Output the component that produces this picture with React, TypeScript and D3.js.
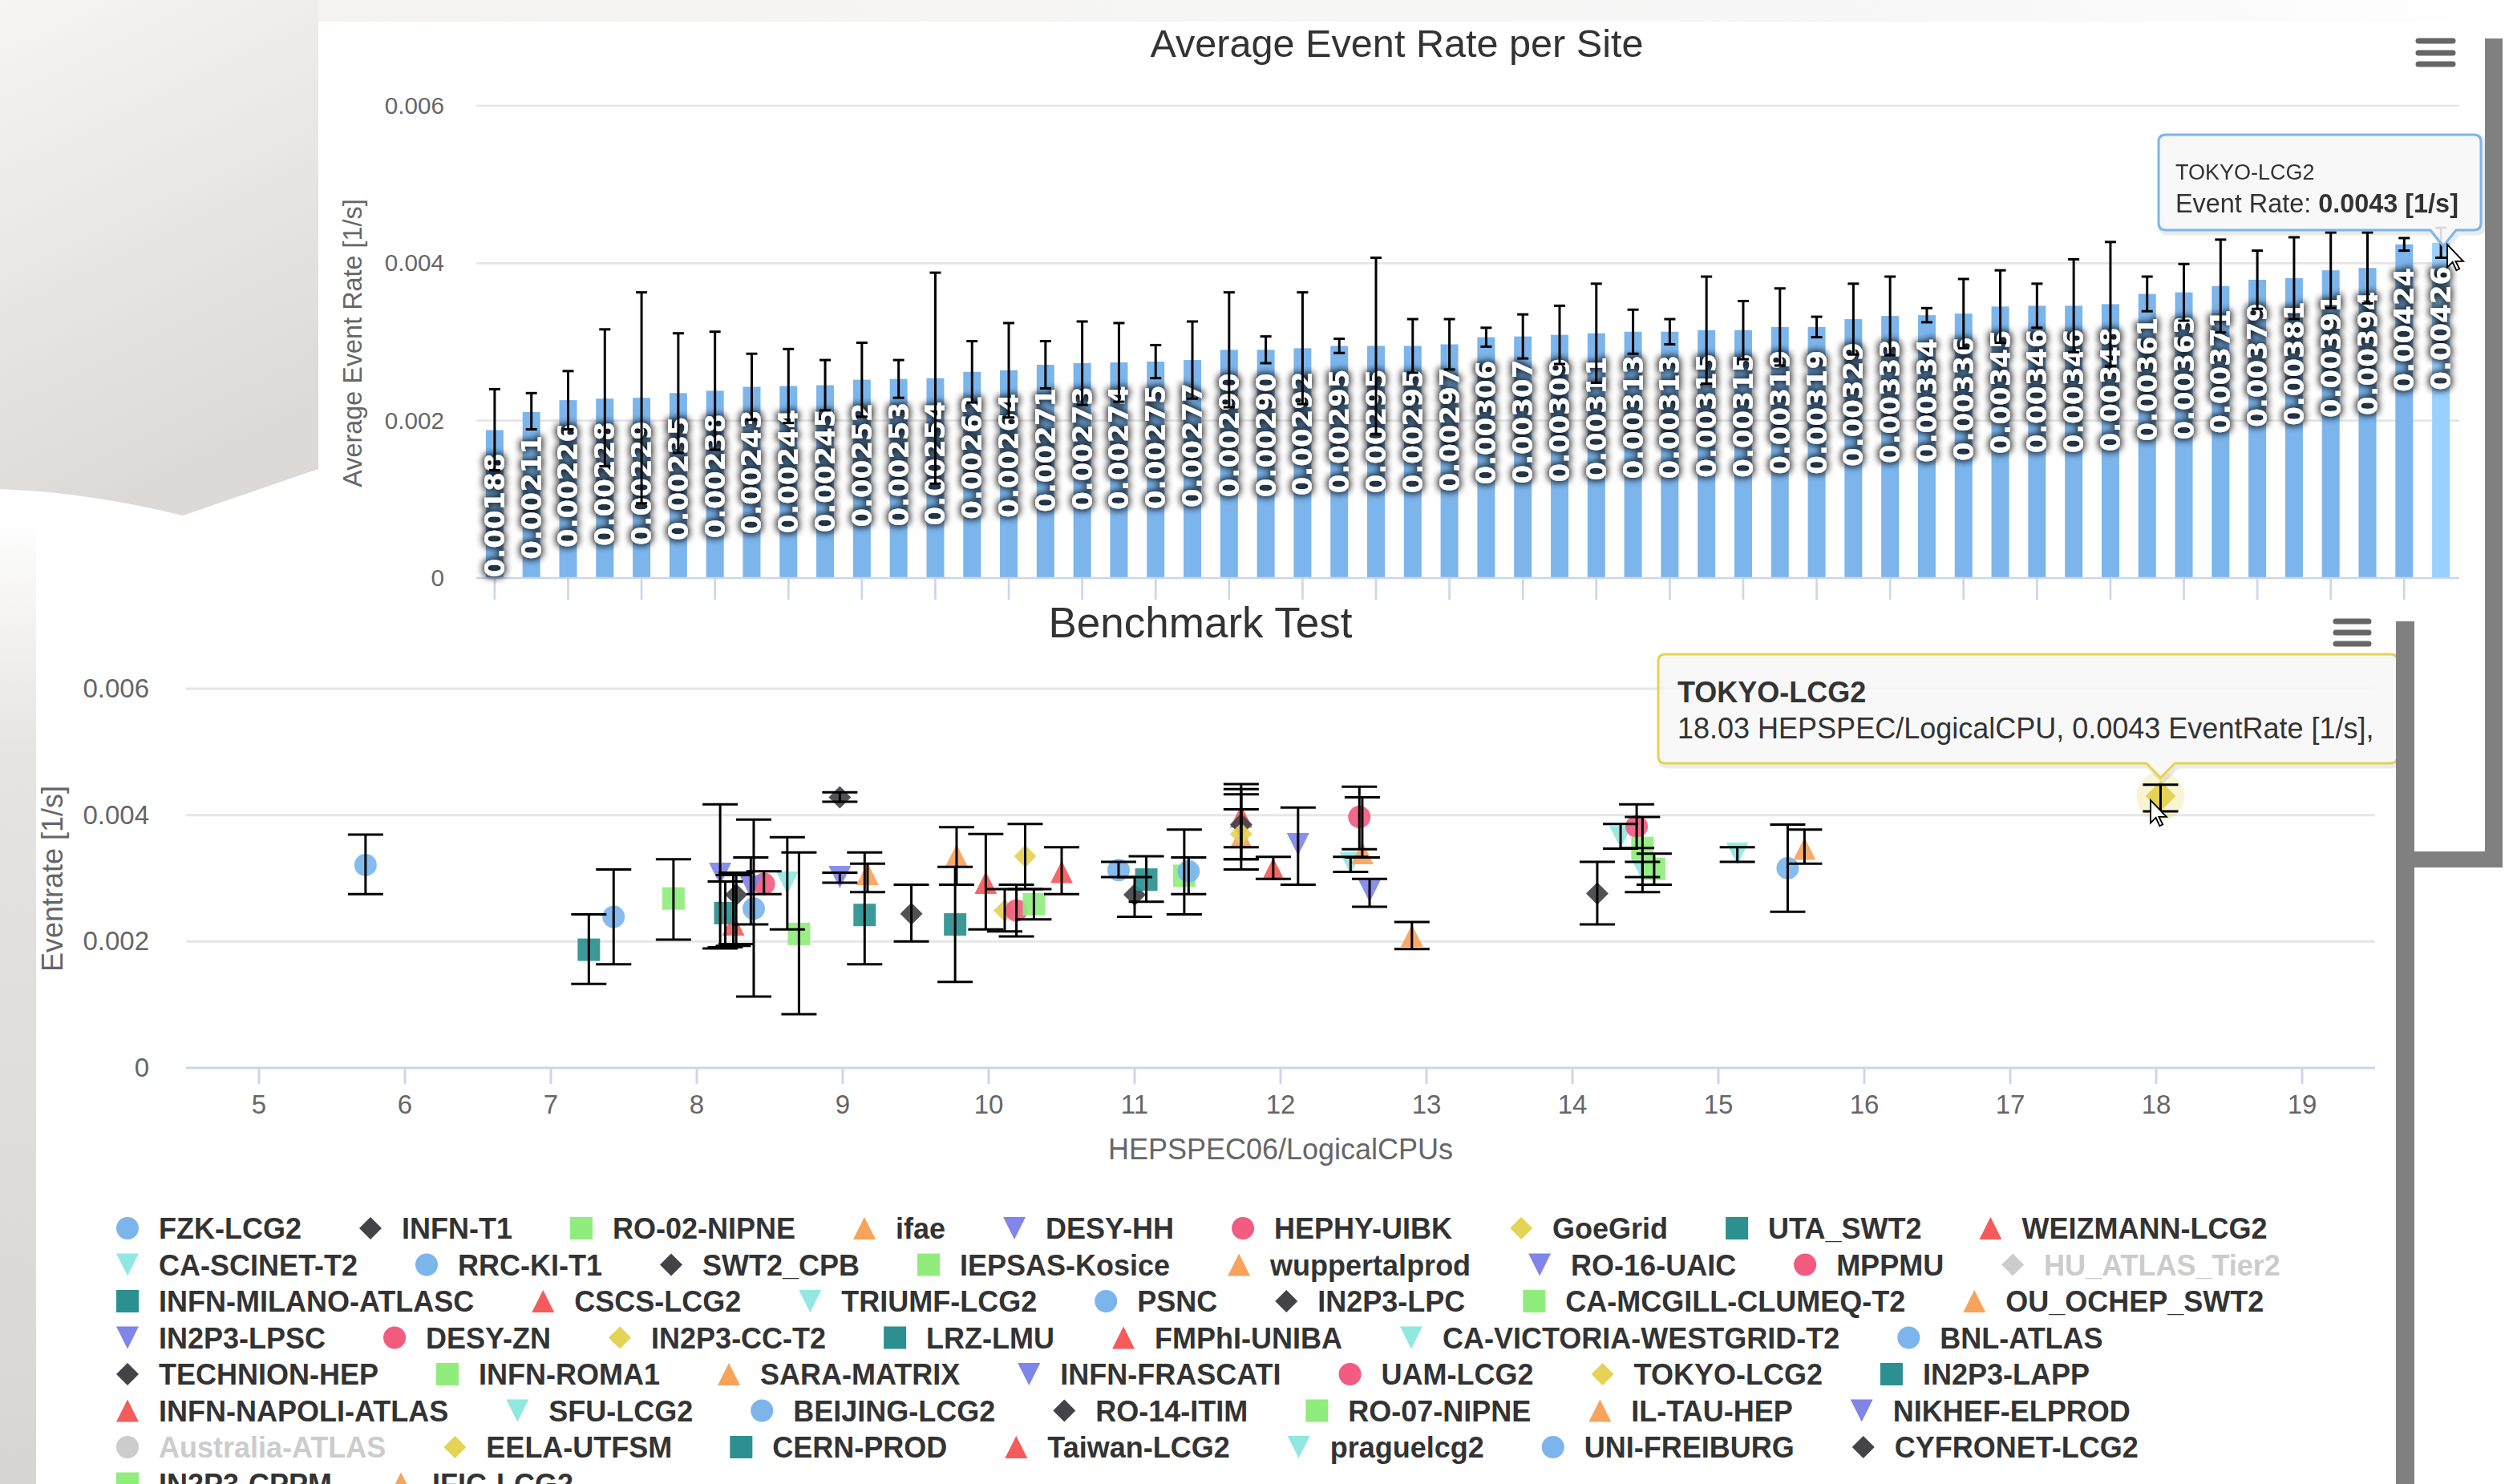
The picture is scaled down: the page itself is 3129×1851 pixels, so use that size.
import React from "react";
import * as d3 from "d3";

const W = 3129;
const H = 1851;
const FONT = "'Liberation Sans', Arial, Helvetica, sans-serif";
const LABEL_FONT = "'DejaVu Sans', Verdana, sans-serif";

// top chart: average event rate per site (sorted)
const barRates = [
  0.00188, 0.00211, 0.00226, 0.00228, 0.00229, 0.00235, 0.00238, 0.00243, 0.00244, 0.00245,
  0.00252, 0.00253, 0.00254, 0.00262, 0.00264, 0.00271, 0.00273, 0.00274, 0.00275, 0.00277,
  0.0029, 0.0029, 0.00292, 0.00295, 0.00295, 0.00295, 0.00297, 0.00306, 0.00307, 0.00309,
  0.00311, 0.00313, 0.00313, 0.00315, 0.00315, 0.00319, 0.00319, 0.00329, 0.00333, 0.00334,
  0.00336, 0.00345, 0.00346, 0.00346, 0.00348, 0.00361, 0.00363, 0.00371, 0.00379, 0.00381,
  0.00391, 0.00394, 0.00424, 0.00426,
];
const barHigh = [
  0.0024, 0.00235, 0.00263, 0.00316, 0.00363, 0.00311, 0.00313, 0.00285, 0.00291, 0.00277,
  0.00299, 0.00277, 0.00388, 0.00301, 0.00324, 0.00301, 0.00326, 0.00324, 0.00296, 0.00326,
  0.00363, 0.00307, 0.00363, 0.00304, 0.00407, 0.00329, 0.00329, 0.00318, 0.00335, 0.00346,
  0.00374, 0.00341, 0.00329, 0.00383, 0.00352, 0.00368, 0.00332, 0.00374, 0.00383, 0.00343,
  0.0038, 0.00391, 0.00374, 0.00405, 0.00427, 0.00383, 0.00399, 0.0043, 0.00416, 0.00433,
  0.00439, 0.00439, 0.00432, 0.00445,
];
const barLow = [
  0.00137, 0.00189, 0.00189, 0.00142, 0.00095, 0.00159, 0.00163, 0.00201, 0.00197, 0.00213,
  0.00205, 0.00229, 0.0012, 0.00223, 0.00204, 0.00241, 0.0022, 0.00224, 0.00254, 0.00228,
  0.00217, 0.00273, 0.00221, 0.00286, 0.00183, 0.00261, 0.00265, 0.00294, 0.00279, 0.00272,
  0.00248, 0.00285, 0.00297, 0.00247, 0.00278, 0.0027, 0.00306, 0.00284, 0.00283, 0.00325,
  0.00292, 0.00299, 0.00318, 0.00287, 0.00269, 0.00339, 0.00327, 0.00312, 0.00342, 0.00329,
  0.00343, 0.00349, 0.00416, 0.00407,
];
const hoveredBar = 53;

// bottom chart: one series per site
const siteNames = [
  "FZK-LCG2", "INFN-T1", "RO-02-NIPNE", "ifae", "DESY-HH", "HEPHY-UIBK", "GoeGrid", "UTA_SWT2",
  "WEIZMANN-LCG2", "CA-SCINET-T2", "RRC-KI-T1", "SWT2_CPB", "IEPSAS-Kosice", "wuppertalprod",
  "RO-16-UAIC", "MPPMU", "HU_ATLAS_Tier2", "INFN-MILANO-ATLASC", "CSCS-LCG2", "TRIUMF-LCG2",
  "PSNC", "IN2P3-LPC", "CA-MCGILL-CLUMEQ-T2", "OU_OCHEP_SWT2", "IN2P3-LPSC", "DESY-ZN",
  "IN2P3-CC-T2", "LRZ-LMU", "FMPhI-UNIBA", "CA-VICTORIA-WESTGRID-T2", "BNL-ATLAS", "TECHNION-HEP",
  "INFN-ROMA1", "SARA-MATRIX", "INFN-FRASCATI", "UAM-LCG2", "TOKYO-LCG2", "IN2P3-LAPP",
  "INFN-NAPOLI-ATLAS", "SFU-LCG2", "BEIJING-LCG2", "RO-14-ITIM", "RO-07-NIPNE", "IL-TAU-HEP",
  "NIKHEF-ELPROD", "Australia-ATLAS", "EELA-UTFSM", "CERN-PROD", "Taiwan-LCG2", "praguelcg2",
  "UNI-FREIBURG", "CYFRONET-LCG2", "IN2P3-CPPM", "IFIC-LCG2",
];
const hiddenSites = ["HU_ATLAS_Tier2", "Australia-ATLAS"];
const siteHs06 = [
  5.73, 8.98, 7.84, 9.17, 8.16, 8.46, 10.11, 7.26, 8.25, 8.62,
  7.43, 8.27, 8.7, 9.78, 8.37, 10.19, null, 8.195, 9.98, 12.48,
  8.39, 9.47, 10.31, 11.73, 8.98, 12.54, 10.25, 9.15, 10.5, 14.33,
  10.89, 11.0, 11.34, 12.56, 12.12, 14.44, 18.03, 9.77, 11.73, 14.48,
  11.37, 11.73, 14.48, 12.9, 12.61, null, 11.73, 11.08, 11.95, 15.13,
  15.475, 14.17, 14.56, 15.59,
];
const siteRate = [
  0.00321, 0.00428, 0.00268, 0.00307, 0.00307, 0.00291, 0.00249, 0.00187, 0.00227, 0.00293,
  0.00239, 0.00274, 0.00212, 0.00336, 0.00287, 0.00249, null, 0.00245, 0.00293, 0.00324,
  0.00252, 0.00244, 0.00259, 0.00365, 0.00302, 0.00397, 0.00335, 0.00242, 0.0031, 0.00365,
  0.00313, 0.00274, 0.00304, 0.0034, 0.00354, 0.00382, 0.0043, 0.00227, 0.00398, 0.00313,
  0.00311, 0.00385, 0.00348, 0.00209, 0.0028, null, 0.0037, 0.00298, 0.00315, 0.00339,
  0.00316, 0.00276, 0.00315, 0.00347,
];
const siteLow = [
  0.00275, 0.00421, 0.00203, 0.00278, 0.00189, 0.00275, 0.00216, 0.00133, 0.00193, 0.00219,
  0.00164, 0.00196, 0.00085, 0.0029, 0.00227, 0.00208, null, 0.00191, 0.00219, 0.0031,
  0.00113, 0.002, 0.00235, 0.00314, 0.00293, 0.00346, 0.00283, 0.00164, 0.00275, 0.00347,
  0.00302, 0.00239, 0.00243, 0.00333, 0.0029, 0.00348, 0.00406, 0.00136, 0.0033, 0.00302,
  0.00275, 0.0033, 0.00278, 0.00188, 0.00255, null, 0.00349, 0.00263, 0.00299, 0.00326,
  0.00247, 0.00227, 0.0029, 0.00323,
];
const siteHigh = [
  0.00369, 0.00436, 0.0033, 0.00323, 0.00417, 0.00311, 0.00283, 0.00243, 0.00305, 0.00365,
  0.00314, 0.00309, 0.00341, 0.00381, 0.00333, 0.0029, null, 0.00295, 0.0037, 0.00334,
  0.00393, 0.0029, 0.00283, 0.00409, 0.00309, 0.00445, 0.00386, 0.00341, 0.00349, 0.00386,
  0.00326, 0.00302, 0.00377, 0.00428, 0.00412, 0.00417, 0.00448, 0.00318, 0.00449, 0.00326,
  0.00333, 0.00441, 0.00397, 0.00231, 0.00299, null, 0.00433, 0.00335, 0.00334, 0.00349,
  0.00385, 0.00326, 0.00339, 0.00377,
];
const hoveredSite = "TOKYO-LCG2";
const legendRows = [9, 8, 7, 7, 7, 7, 7, 2];

const rateTicks = [0, 0.002, 0.004, 0.006];
const hsTicks = d3.range(5, 20);

const palette = [
  "#7cb5ec", "#434348", "#90ed7d", "#f7a35c", "#8085e9",
  "#f15c80", "#e4d354", "#2b908f", "#f45b5b", "#91e8e1",
];
const symbols = ["circle", "diamond", "square", "triangle", "triangle-down"];

function markerPath(sym: string, cx: number, cy: number, r: number) {
  const p = d3.path();
  if (sym === "circle") {
    p.arc(cx, cy, r, 0, Math.PI * 2);
  } else if (sym === "square") {
    p.rect(cx - r, cy - r, 2 * r, 2 * r);
  } else if (sym === "diamond") {
    p.moveTo(cx, cy - r);
    p.lineTo(cx + r, cy);
    p.lineTo(cx, cy + r);
    p.lineTo(cx - r, cy);
    p.closePath();
  } else if (sym === "triangle") {
    p.moveTo(cx, cy - r);
    p.lineTo(cx + r, cy + r);
    p.lineTo(cx - r, cy + r);
    p.closePath();
  } else {
    p.moveTo(cx - r, cy - r);
    p.lineTo(cx + r, cy - r);
    p.lineTo(cx, cy + r);
    p.closePath();
  }
  return p.toString();
}

function tooltipPath(x: number, y: number, w: number, h: number, r: number, tx: number, ty: number, hb: number) {
  return [
    `M${x + r},${y}`,
    `L${x + w - r},${y}`,
    `Q${x + w},${y} ${x + w},${y + r}`,
    `L${x + w},${y + h - r}`,
    `Q${x + w},${y + h} ${x + w - r},${y + h}`,
    `L${tx + hb},${y + h}`,
    `L${tx},${ty}`,
    `L${tx - hb},${y + h}`,
    `L${x + r},${y + h}`,
    `Q${x},${y + h} ${x},${y + h - r}`,
    `L${x},${y + r}`,
    `Q${x},${y} ${x + r},${y}`,
    "Z",
  ].join(" ");
}

const cursorPath = "M0,0 L0,30 L7,23 L12,34 L16,32 L11,22 L21,22 Z";

export default function App() {
  React.useEffect(() => {
    document.body.style.margin = "0";
  }, []);

  // top chart scales
  const xBar = d3
    .scaleBand<number>()
    .domain(d3.range(barRates.length))
    .range([594, 3067])
    .paddingInner(0.52)
    .paddingOuter(0.26);
  const yBar = d3.scaleLinear().domain([0, 0.006]).range([721, 132]);
  const fmtBar = d3.format(".5f");

  // bottom chart scales
  const xHs = d3.scaleLinear().domain([4.5, 19.5]).range([232, 2962]);
  const yRate = d3.scaleLinear().domain([0, 0.006]).range([1332, 859]);

  const legendItems = React.useMemo(() => {
    const ctx = document.createElement("canvas").getContext("2d")!;
    ctx.font = `bold 36px ${FONT}`;
    const items: { i: number; name: string; x: number; y: number }[] = [];
    let idx = 0;
    legendRows.forEach((count, row) => {
      let x = 135;
      for (let k = 0; k < count; k++, idx++) {
        const name = siteNames[idx];
        items.push({ i: idx, name, x, y: 1532 + row * 45.5 });
        x += 63 + ctx.measureText(name).width + 62;
      }
    });
    return items;
  }, []);

  const points = siteNames
    .map((name, i) => ({
      i,
      name,
      hs: siteHs06[i],
      rate: siteRate[i],
      low: siteLow[i],
      high: siteHigh[i],
      color: palette[i % 10],
      sym: symbols[i % 5],
    }))
    .filter((d) => !hiddenSites.includes(d.name) && d.hs != null);

  const hovered = points.find((d) => d.name === hoveredSite)!;
  const bw = xBar.bandwidth();

  return (
    <svg
      width={W}
      height={H}
      viewBox={`0 0 ${W} ${H}`}
      style={{ display: "block", position: "fixed", left: 0, top: 0 }}
      fontFamily={FONT}
    >
      <defs>
        <linearGradient id="leftShade" x1="0" y1="0" x2="0.3" y2="1">
          <stop offset="0%" stopColor="#f6f5f3" />
          <stop offset="100%" stopColor="#dcd9d6" />
        </linearGradient>
        <linearGradient id="topShade" x1="0" y1="0" x2="1" y2="0">
          <stop offset="0%" stopColor="#f3f2f0" />
          <stop offset="80%" stopColor="#f8f8f8" />
          <stop offset="100%" stopColor="#ffffff" />
        </linearGradient>
        <linearGradient id="stripShade" x1="0" y1="0" x2="0" y2="1">
          <stop offset="0%" stopColor="#ffffff" />
          <stop offset="25%" stopColor="#e6e4e1" />
          <stop offset="100%" stopColor="#d8d6d3" />
        </linearGradient>
        <filter id="labelShadow" x="-40%" y="-40%" width="180%" height="180%">
          <feMorphology in="SourceAlpha" operator="dilate" radius="2" result="grown" />
          <feGaussianBlur in="grown" stdDeviation="4" result="blur" />
          <feFlood floodColor="#000" floodOpacity="0.85" />
          <feComposite in2="blur" operator="in" result="shadow" />
          <feMerge>
            <feMergeNode in="shadow" />
            <feMergeNode in="SourceGraphic" />
          </feMerge>
        </filter>
      </defs>

      {/* page background */}
      <rect x={0} y={0} width={W} height={H} fill="#fff" />
      <rect x={0} y={0} width={W} height={27} fill="url(#topShade)" />
      <path d="M0,0 H397 V585 L228,643 Q110,614 0,610 Z" fill="url(#leftShade)" />
      <rect x={0} y={640} width={45} height={H - 640} fill="url(#stripShade)" />

      {/* ===== top chart ===== */}
      <rect x={397} y={27} width={2702} height={725} fill="#fff" />
      <text x={1742} y={71} textAnchor="middle" fontSize={48.6} fill="#333">
        Average Event Rate per Site
      </text>
      <g stroke="#666" strokeWidth={7} strokeLinecap="round">
        {[51, 66, 80].map((y) => (
          <line key={y} x1={3016} x2={3059} y1={y} y2={y} />
        ))}
      </g>
      {rateTicks.slice(1).map((t) => (
        <line key={t} x1={594} x2={3067} y1={yBar(t)} y2={yBar(t)} stroke="#e6e6e6" strokeWidth={2.7} />
      ))}
      {rateTicks.map((t) => (
        <text key={t} x={554} y={yBar(t) + 10} textAnchor="end" fontSize={29.7} fill="#666">
          {t === 0 ? "0" : d3.format(".3f")(t)}
        </text>
      ))}
      <text
        transform="translate(440,428) rotate(-90)"
        textAnchor="middle"
        dominantBaseline="central"
        fontSize={32.4}
        fill="#666"
      >
        Average Event Rate [1/s]
      </text>
      {barRates.map((v, i) => (
        <rect
          key={i}
          x={xBar(i)!}
          y={yBar(v)}
          width={bw}
          height={yBar(0) - yBar(v)}
          fill={i === hoveredBar ? "#99d0ff" : "#7cb5ec"}
        />
      ))}
      <line x1={594} x2={3067} y1={yBar(0)} y2={yBar(0)} stroke="#ccd6eb" strokeWidth={2.7} />
      {barRates.map((_, i) =>
        i % 2 === 0 ? (
          <line
            key={i}
            x1={xBar(i)! + bw / 2}
            x2={xBar(i)! + bw / 2}
            y1={yBar(0)}
            y2={yBar(0) + 27}
            stroke="#ccd6eb"
            strokeWidth={2.7}
          />
        ) : null
      )}
      <g filter="url(#labelShadow)">
        {barRates.map((v, i) => (
          <text
            key={i}
            transform={`translate(${xBar(i)! + bw / 2},${yBar(v) + 29}) rotate(-90)`}
            textAnchor="end"
            dominantBaseline="central"
            fontSize={34}
            fontFamily={LABEL_FONT}
            fontWeight="bold"
            fill="#fff"
          >
            {fmtBar(v)}
          </text>
        ))}
      </g>
      <g stroke="#000" strokeWidth={3}>
        {barRates.map((_, i) => {
          const cx = xBar(i)! + bw / 2;
          const y1 = yBar(barHigh[i]);
          const y2 = yBar(barLow[i]);
          return (
            <g key={i}>
              <line x1={cx} x2={cx} y1={y1} y2={y2} />
              <line x1={cx - 7} x2={cx + 7} y1={y1} y2={y1} />
              <line x1={cx - 7} x2={cx + 7} y1={y2} y2={y2} />
            </g>
          );
        })}
      </g>

      {/* top tooltip */}
      <path
        d={tooltipPath(2692, 168, 402, 119, 9, 3047, 307, 16)}
        transform="translate(3,3)"
        fill="none"
        stroke="rgba(0,0,0,0.08)"
        strokeWidth={7}
      />
      <path
        d={tooltipPath(2692, 168, 402, 119, 9, 3047, 307, 16)}
        fill="rgba(247,247,247,0.88)"
        stroke="#7cb5ec"
        strokeWidth={3}
      />
      <text x={2713} y={224} fontSize={27} fill="#333">
        TOKYO-LCG2
      </text>
      <text x={2713} y={265} fontSize={32.4} fill="#333">
        Event Rate: <tspan fontWeight="bold">0.0043 [1/s]</tspan>
      </text>
      <path d={cursorPath} transform="translate(3052,305) scale(0.95)" fill="#fff" stroke="#000" strokeWidth={2} />

      {/* ===== bottom chart ===== */}
      <rect x={45} y={752} width={2943} height={H - 752} fill="#fff" />
      <text x={1497} y={795} textAnchor="middle" fontSize={53} fill="#333">
        Benchmark Test
      </text>
      <g stroke="#666" strokeWidth={7} strokeLinecap="round">
        {[775, 789, 803].map((y) => (
          <line key={y} x1={2913} x2={2954} y1={y} y2={y} />
        ))}
      </g>
      {rateTicks.slice(1).map((t) => (
        <line key={t} x1={232} x2={2962} y1={yRate(t)} y2={yRate(t)} stroke="#e6e6e6" strokeWidth={3} />
      ))}
      <line x1={232} x2={2962} y1={yRate(0)} y2={yRate(0)} stroke="#ccd6eb" strokeWidth={3} />
      {hsTicks.map((t) => (
        <g key={t}>
          <line x1={xHs(t)} x2={xHs(t)} y1={yRate(0)} y2={yRate(0) + 20} stroke="#ccd6eb" strokeWidth={3} />
          <text x={xHs(t)} y={1389} textAnchor="middle" fontSize={33} fill="#666">
            {t}
          </text>
        </g>
      ))}
      {rateTicks.map((t) => (
        <text key={t} x={186} y={yRate(t) + 11} textAnchor="end" fontSize={33} fill="#666">
          {t === 0 ? "0" : d3.format(".3f")(t)}
        </text>
      ))}
      <text
        transform="translate(65,1096) rotate(-90)"
        textAnchor="middle"
        dominantBaseline="central"
        fontSize={36}
        fill="#666"
      >
        Eventrate [1/s]
      </text>
      <text x={1597} y={1446} textAnchor="middle" fontSize={36} fill="#666">
        HEPSPEC06/LogicalCPUs
      </text>

      {/* markers */}
      {points.map((d) =>
        d.name === hoveredSite ? (
          <g key={d.i}>
            <circle cx={xHs(d.hs!)} cy={yRate(d.rate!)} r={30} fill={d.color} opacity={0.25} />
            <path d={markerPath(d.sym, xHs(d.hs!), yRate(d.rate!), 19)} fill={d.color} />
          </g>
        ) : (
          <path key={d.i} d={markerPath(d.sym, xHs(d.hs!), yRate(d.rate!), 14)} fill={d.color} opacity={0.92} />
        )
      )}
      {/* error bars */}
      <g stroke="#000" strokeWidth={3}>
        {points.map((d) => {
          const cx = xHs(d.hs!);
          const y1 = yRate(d.high!);
          const y2 = yRate(d.low!);
          return (
            <g key={d.i}>
              <line x1={cx} x2={cx} y1={y1} y2={y2} />
              <line x1={cx - 22} x2={cx + 22} y1={y1} y2={y1} />
              <line x1={cx - 22} x2={cx + 22} y1={y2} y2={y2} />
            </g>
          );
        })}
      </g>

      {/* legend */}
      {legendItems.map((it) => {
        const off = hiddenSites.includes(it.name);
        const col = off ? "#cccccc" : palette[it.i % 10];
        return (
          <g key={it.i}>
            <path d={markerPath(symbols[it.i % 5], it.x + 24, it.y, 14)} fill={col} />
            <text x={it.x + 63} y={it.y + 13} fontSize={36} fontWeight="bold" fill={off ? "#cccccc" : "#333"}>
              {it.name}
            </text>
          </g>
        );
      })}

      {/* bottom tooltip */}
      <path
        d={tooltipPath(2068, 816, 922, 136, 9, xHs(hovered.hs!), 970, 18)}
        transform="translate(3,3)"
        fill="none"
        stroke="rgba(0,0,0,0.08)"
        strokeWidth={7}
      />
      <path
        d={tooltipPath(2068, 816, 922, 136, 9, xHs(hovered.hs!), 970, 18)}
        fill="rgba(247,247,247,0.85)"
        stroke={hovered.color}
        strokeWidth={3}
      />
      <text x={2092} y={876} fontSize={36} fontWeight="bold" fill="#333">
        {hovered.name}
      </text>
      <text x={2092} y={921} fontSize={36} fill="#333">
        {`${hovered.hs} HEPSPEC/LogicalCPU, ${hovered.rate} EventRate [1/s],`}
      </text>
      <path d={cursorPath} transform="translate(2682,998) scale(0.95)" fill="#fff" stroke="#000" strokeWidth={2} />

      {/* grey frame bars */}
      <g fill="#808080">
        <rect x={3099} y={48} width={22} height={1034} />
        <rect x={2988} y={1062} width={133} height={20} />
        <rect x={2988} y={775} width={23} height={H - 775} />
      </g>
    </svg>
  );
}
